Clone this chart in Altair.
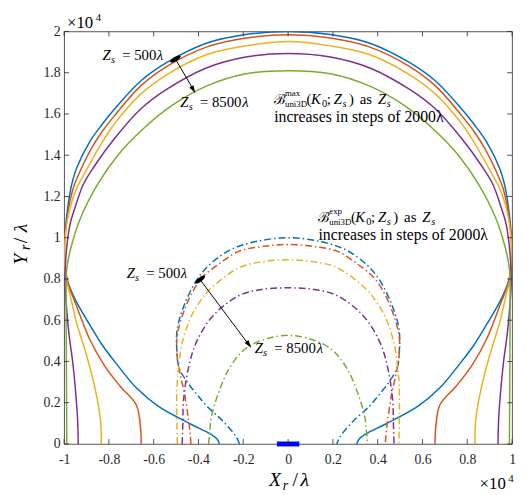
import altair as alt
import pandas as pd

# ---------------- data ----------------
zs_labels = ["500", "2500", "4500", "6500", "8500"]
line_colors = ["#0072BD", "#D95319", "#EDB120", "#7E2F8E", "#77AC30"]

x_ticks = [-1, -0.8, -0.6, -0.4, -0.2, 0, 0.2, 0.4, 0.6, 0.8, 1]
y_ticks = [0, 0.2, 0.4, 0.6, 0.8, 1, 1.2, 1.4, 1.6, 1.8, 2]

# B_max (solid) curves: left half, from the X axis up to the apex at x = 0
max500_x = [-0.306, -0.318, -0.348, -0.436, -0.582, -0.68, -0.76, -0.83, -0.895, -0.95, -0.986,
            -0.995, -0.998, -0.997, -0.992, -0.982, -0.966, -0.944, -0.886, -0.83, -0.775, -0.658,
            -0.541, -0.365, -0.189, 0]
max500_y = [0, 0.025, 0.049, 0.097, 0.185, 0.275, 0.38, 0.48, 0.595, 0.70, 0.797,
            0.86, 0.93, 0.99, 1.068, 1.16, 1.259, 1.338, 1.465, 1.55, 1.624, 1.76,
            1.85, 1.943, 1.985, 2.0]

max2500_x = [-0.656, -0.658, -0.678, -0.75, -0.82, -0.887, -0.945, -0.988, -1.0, -0.998,
             -0.989, -0.977, -0.958, -0.929, -0.878, -0.83, -0.775, -0.658, -0.541, -0.365, -0.189, 0]
max2500_y = [0, 0.066, 0.19, 0.28, 0.38, 0.51, 0.67, 0.797, 0.9, 1.0,
             1.068, 1.16, 1.245, 1.322, 1.433, 1.515, 1.592, 1.736, 1.831, 1.924, 1.968, 1.984]

max4500_x = [-0.834, -0.838, -0.862, -0.90, -0.945, -0.975, -0.993, -0.999, -0.988, -0.97,
             -0.944, -0.907, -0.863, -0.82, -0.775, -0.658, -0.541, -0.365, -0.189, 0]
max4500_y = [0, 0.12, 0.27, 0.43, 0.59, 0.73, 0.81, 0.9, 1.068, 1.16,
             1.24, 1.315, 1.402, 1.48, 1.553, 1.696, 1.791, 1.887, 1.93, 1.951]

max6500_x = [-0.937, -0.94, -0.95, -0.962, -0.978, -0.99, -0.996, -0.992, -0.973, -0.95,
             -0.914, -0.863, -0.775, -0.658, -0.541, -0.365, -0.189, 0]
max6500_y = [0, 0.12, 0.27, 0.40, 0.53, 0.67, 0.78, 0.908, 1.068, 1.15,
             1.259, 1.35, 1.481, 1.624, 1.72, 1.823, 1.876, 1.893]

max8500_x = [-0.988, -0.99, -0.991, -0.988, -0.97, -0.925, -0.85, -0.76, -0.655, -0.52,
             -0.365, -0.189, 0]
max8500_y = [0, 0.4, 0.75, 0.85, 0.95, 1.10, 1.26, 1.40, 1.52, 1.64,
             1.735, 1.795, 1.81]

# B_exp (dash-dot) curves: left half, from the X axis up to the apex at x = 0
exp500_x = [-0.217, -0.232, -0.29, -0.36, -0.407, -0.45, -0.487, -0.497, -0.495, -0.465,
            -0.407, -0.35, -0.26, -0.15, 0]
exp500_y = [0, 0.035, 0.11, 0.18, 0.24, 0.30, 0.37, 0.46, 0.558, 0.67,
            0.797, 0.87, 0.94, 0.98, 1.0]

exp2500_x = [-0.434, -0.438, -0.445, -0.462, -0.48, -0.495, -0.497, -0.489, -0.467, -0.43,
             -0.38, -0.30, -0.218, -0.11, 0]
exp2500_y = [0, 0.06, 0.12, 0.24, 0.33, 0.42, 0.51, 0.56, 0.638, 0.73,
             0.81, 0.88, 0.935, 0.958, 0.967]

exp4500_x = [-0.495, -0.497, -0.495, -0.489, -0.475, -0.438, -0.40, -0.35, -0.218, -0.11, 0]
exp4500_y = [0, 0.209, 0.30, 0.368, 0.479, 0.606, 0.68, 0.749, 0.855, 0.884, 0.893]

exp6500_x = [-0.473, -0.47, -0.467, -0.445, -0.409, -0.335, -0.218, -0.11, 0]
exp6500_y = [0, 0.1, 0.209, 0.368, 0.495, 0.622, 0.72, 0.75, 0.757]

exp8500_x = [-0.355, -0.35, -0.343, -0.313, -0.262, -0.189, -0.101, 0]
exp8500_y = [0, 0.06, 0.129, 0.24, 0.368, 0.463, 0.508, 0.527]

# source segment on the X axis
src_x = [-0.05]
src_x2 = [0.05]

# ---------------- tables ----------------
def curve_rows(xs, ys, zs):
    pts = list(zip(xs, ys))
    full = pts + [(-x, y) for (x, y) in reversed(pts[:-1])]  # symmetric about x = 0
    return [dict(x=x, y=y, zs=zs, i=i) for i, (x, y) in enumerate(full)]

max_rows, exp_rows = [], []
for zs, xs, ys in [("500", max500_x, max500_y), ("2500", max2500_x, max2500_y),
                   ("4500", max4500_x, max4500_y), ("6500", max6500_x, max6500_y),
                   ("8500", max8500_x, max8500_y)]:
    max_rows += curve_rows(xs, ys, zs)
for zs, xs, ys in [("500", exp500_x, exp500_y), ("2500", exp2500_x, exp2500_y),
                   ("4500", exp4500_x, exp4500_y), ("6500", exp6500_x, exp6500_y),
                   ("8500", exp8500_x, exp8500_y)]:
    exp_rows += curve_rows(xs, ys, zs)
df_max = pd.DataFrame(max_rows)
df_exp = pd.DataFrame(exp_rows)

# ---------------- layout / style ----------------
W, H = 455, 419
OX, OY = 65, 28          # page position of the plot origin
AX = "#262626"
SERIF = "Times New Roman, Liberation Serif, DejaVu Serif, serif"

xs_scale = alt.Scale(domain=[-1, 1], nice=False, zero=False)
ys_scale = alt.Scale(domain=[0, 2], nice=False, zero=False)
x_axis = alt.Axis(values=x_ticks, labelExpr="'' + datum.value", grid=False, domain=False, ticks=False,
                  labelFont=SERIF, labelFontSize=14, labelColor=AX, labelPadding=9,
                  labelOverlap=False, labelFlush=False, title=None)
y_axis = alt.Axis(values=y_ticks, labelExpr="'' + datum.value", grid=False, domain=False, ticks=False,
                  labelFont=SERIF, labelFontSize=14, labelColor=AX, labelPadding=4,
                  labelOverlap=False, labelFlush=False, title=None)

def X(f):
    return alt.X(f, type="quantitative", scale=xs_scale, axis=x_axis)

def Y(f):
    return alt.Y(f, type="quantitative", scale=ys_scale, axis=y_axis)

color = alt.Color("zs:N", scale=alt.Scale(domain=zs_labels, range=line_colors), legend=None)

solid = alt.Chart(df_max).mark_line(strokeWidth=1.5, clip=True, interpolate="catmull-rom").encode(
    x=X("x"), y=Y("y"), color=color, order="i:Q")
dashdot = alt.Chart(df_exp).mark_line(strokeWidth=1.5, clip=True, interpolate="catmull-rom",
                                      strokeDash=[7, 3, 1.5, 3]).encode(
    x=X("x"), y=Y("y"), color=color, order="i:Q")

src = alt.Chart(pd.DataFrame({"x": src_x, "x2": src_x2, "y": [0]})).mark_rule(
    color="#0000FF", strokeWidth=5).encode(x=X("x"), x2="x2:Q", y=Y("y"))

# inward ticks on all four sides
xt = pd.DataFrame({"t": x_ticks})
yt = pd.DataFrame({"t": y_ticks})
tick_style = dict(color=AX, strokeWidth=0.8)
ticks = [
    alt.Chart(xt).mark_rule(**tick_style).encode(x=X("t"), y=alt.value(H), y2=alt.value(H - 5)),
    alt.Chart(xt).mark_rule(**tick_style).encode(x=X("t"), y=alt.value(0), y2=alt.value(5)),
    alt.Chart(yt).mark_rule(**tick_style).encode(y=Y("t"), x=alt.value(0), x2=alt.value(5)),
    alt.Chart(yt).mark_rule(**tick_style).encode(y=Y("t"), x=alt.value(W), x2=alt.value(W - 5)),
]

# arrows (annotation positions, data units)
arrow_df = pd.DataFrame({"x": [-0.503, -0.393], "y": [1.866, 0.797],
                         "x2": [-0.427, -0.181], "y2": [1.7255, 0.489]})
arrow_lines = alt.Chart(arrow_df).mark_rule(color="black", strokeWidth=1).encode(
    x=X("x"), y=Y("y"), x2="x2:Q", y2="y2:Q")

HEAD = "M0,-1L0.6,1L-0.6,1Z"
BLOB = "M-1,0A1,0.35,0,1,1,1,0A1,0.35,0,1,1,-1,0Z"
marks_extra = []
for (hx, hy, ha), (bx, by, ba) in [((-0.423, 1.7175, 150), (-0.503, 1.866, 330)),
                                   ((-0.175, 0.4816, 143), (-0.393, 0.797, 323))]:
    marks_extra.append(alt.Chart(pd.DataFrame({"x": [hx], "y": [hy]})).mark_point(
        shape=HEAD, filled=True, size=64, angle=ha, color="black", opacity=1).encode(x=X("x"), y=Y("y")))
    marks_extra.append(alt.Chart(pd.DataFrame({"x": [bx], "y": [by]})).mark_point(
        shape=BLOB, filled=True, size=150, angle=ba, color="black", opacity=1).encode(x=X("x"), y=Y("y")))

# ---------------- text pieces (page pixel positions) ----------------
pieces = []

def zs_label(z0, bl, num, lam):
    pieces.extend([("Z", z0, bl, 15, "italic", 0), ("s", z0 + 8.5, bl + 3, 10.5, "italic", 0),
                   ("= " + num, z0 + 20, bl, 15, "normal", 0), ("λ", z0 + lam, bl, 15, "italic", 0)])

zs_label(104, 57, "500", 55)
zs_label(183, 105, "8500", 63)
zs_label(128.5, 278.5, "500", 55)
zs_label(258.5, 355, "8500", 63)

def bound_label(b0, bl, sup):
    pieces.extend([
        ("ℬ", b0, bl, 14, "normal", 0),
        (sup, b0 + 11, bl - 8, 9, "normal", 0),
        ("uni3D", b0 + 11, bl + 3, 9, "normal", 0),
        ("(", b0 + 33, bl, 15, "normal", 0),
        ("K", b0 + 37.5, bl, 15, "italic", 0),
        ("0", b0 + 48.5, bl + 3, 10.5, "normal", 0),
        (";", b0 + 53.5, bl, 15, "normal", 0),
        ("Z", b0 + 60.5, bl, 15, "italic", 0),
        ("s", b0 + 69.5, bl + 3, 10.5, "italic", 0),
        (")", b0 + 76, bl, 15, "normal", 0),
        ("as", b0 + 87, bl, 15, "normal", 0),
        ("Z", b0 + 105.5, bl, 15, "italic", 0),
        ("s", b0 + 114.5, bl + 3, 10.5, "italic", 0),
        ("increases in steps of 2000λ", b0, bl + 18, 16, "normal", 0),
    ])

bound_label(278.3, 102, "max")
bound_label(323.3, 221.5, "exp")

# axis titles and exponent labels
pieces.extend([
    ("X", 273, 490, 20, "italic", 0), ("r", 287, 494, 14, "italic", 0),
    ("/", 297, 490, 20, "normal", 0), ("λ", 305, 490, 20, "italic", 0),
    ("Y", 27, 265, 20, "italic", 270), ("r", 30, 250, 14, "italic", 270),
    ("/", 27, 243, 20, "normal", 270), ("λ", 27, 232, 20, "italic", 270),
    ("×10", 68, 24, 17, "normal", 0), ("4", 97, 17, 11, "normal", 0),
    ("×10", 487, 493, 17, "normal", 0), ("4", 516, 486, 11, "normal", 0),
])

one = pd.DataFrame({"d": [0]})
texts = []
for (t, px, py, size, style, ang) in pieces:
    kw = dict(text=t, font=SERIF, fontSize=size, fontStyle=style, align="left",
              baseline="alphabetic", color="black")
    if ang:
        kw["angle"] = ang
    texts.append(alt.Chart(one).mark_text(**kw).encode(x=alt.value(px - OX), y=alt.value(py - OY)))

chart = alt.layer(solid, dashdot, src, *ticks, arrow_lines, *marks_extra, *texts).properties(
    width=W, height=H,
    padding={"left": OX - 8, "top": OY - 8, "right": 6, "bottom": 48},
    autosize=alt.AutoSizeParams(type="none"),
    background="white",
).configure_view(stroke=AX, strokeWidth=0.8)

chart.save("out.html", embed_options={"renderer": "svg", "actions": False})
